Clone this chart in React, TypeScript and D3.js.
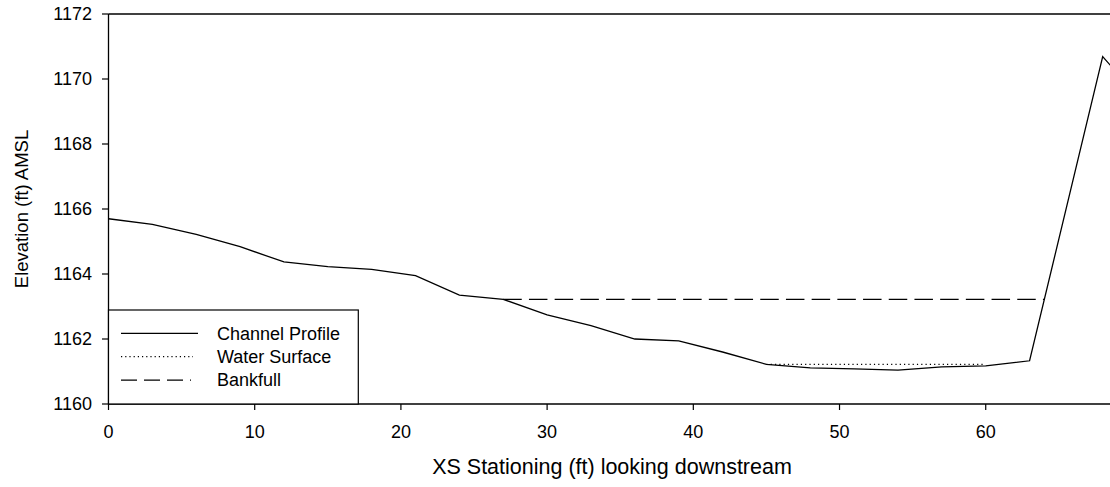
import React from "react";
import * as d3 from "d3";

const stations = [0, 3, 6, 9, 12, 15, 18, 21, 24, 27, 30, 33, 36, 39, 42, 45, 48, 51, 54, 57, 60, 63, 68, 70];
const elevations = [
  1165.7, 1165.53, 1165.22, 1164.84, 1164.37, 1164.23, 1164.14, 1163.95, 1163.35, 1163.22,
  1162.74, 1162.41, 1162.0, 1161.94, 1161.6, 1161.22, 1161.11, 1161.08, 1161.04, 1161.14,
  1161.17, 1161.33, 1170.69, 1169.67,
];
const waterStations = [45, 60];
const waterElev = [1161.22, 1161.22];
const bankStations = [27, 64];
const bankElev = [1163.22, 1163.22];
const xTicks = [0, 10, 20, 30, 40, 50, 60];
const yTicks = [1160, 1162, 1164, 1166, 1168, 1170, 1172];
const legendLabels = ["Channel Profile", "Water Surface", "Bankfull"];

const W = 1110;
const H = 487;
const left = 108.5;
const right = 1110;
const top = 14;
const bottom = 404;
const FONT = "'Liberation Sans', Arial, sans-serif";

export default function App() {
  const x = d3.scaleLinear().domain([0, 68.5]).range([left, right]);
  const y = d3.scaleLinear().domain([1160, 1172]).range([bottom, top]);
  const line = d3
    .line<[number, number]>()
    .x((d) => x(d[0]))
    .y((d) => y(d[1]));
  const profile = stations.map((s, i) => [s, elevations[i]] as [number, number]);
  const water = waterStations.map((s, i) => [s, waterElev[i]] as [number, number]);
  const bank = bankStations.map((s, i) => [s, bankElev[i]] as [number, number]);

  const legendStyles = [
    { dash: undefined, x2: 198 },
    { dash: "1.2,3", x2: 193 },
    { dash: "16,7", x2: 191 },
  ];

  return (
    <svg
      width={W}
      height={H}
      style={{ position: "absolute", left: 0, top: 0, background: "#fff" }}
      fontFamily={FONT}
    >
      <defs>
        <clipPath id="plot">
          <rect x={left} y={top} width={right - left} height={bottom - top} />
        </clipPath>
      </defs>
      <g clipPath="url(#plot)" fill="none" stroke="#000" strokeWidth={1.3}>
        <path d={line(bank) || ""} strokeDasharray="18.5,7.2" />
        <path d={line(water) || ""} strokeDasharray="1.2,3.1" />
        <path d={line(profile) || ""} />
      </g>
      {/* frame */}
      <line x1={left} x2={left} y1={top} y2={bottom} stroke="#000" strokeWidth={1.3} />
      <line x1={left} x2={right} y1={bottom} y2={bottom} stroke="#000" strokeWidth={1.3} />
      <line x1={left} x2={right} y1={top} y2={top} stroke="#000" strokeWidth={1.3} />
      {/* y ticks */}
      {yTicks.map((t) => (
        <g key={"y" + t}>
          <line x1={left - 6.5} x2={left} y1={y(t)} y2={y(t)} stroke="#000" strokeWidth={1.2} />
          <text x={92} y={y(t)} dy="0.35em" textAnchor="end" fontSize={18} fill="#000">
            {t}
          </text>
        </g>
      ))}
      {/* x ticks */}
      {xTicks.map((t) => (
        <g key={"x" + t}>
          <line x1={x(t)} x2={x(t)} y1={bottom} y2={bottom + 6} stroke="#000" strokeWidth={1.2} />
          <text x={x(t)} y={437.5} textAnchor="middle" fontSize={18} fill="#000">
            {t}
          </text>
        </g>
      ))}
      <text x={612} y={474} textAnchor="middle" fontSize={21.5} fill="#000">
        XS Stationing (ft) looking downstream
      </text>
      <text
        transform={`translate(28,${(top + bottom) / 2}) rotate(-90)`}
        textAnchor="middle"
        fontSize={18.5}
        fill="#000"
      >
        Elevation (ft) AMSL
      </text>
      {/* legend */}
      <rect x={left} y={310} width={358.3 - left} height={bottom - 310} fill="#fff" stroke="#000" strokeWidth={1.2} />
      {legendLabels.map((lab, i) => {
        const ly = 333.3 + i * 23.4;
        return (
          <g key={lab}>
            <line
              x1={121}
              x2={legendStyles[i].x2}
              y1={ly}
              y2={ly}
              stroke="#000"
              strokeWidth={1.2}
              strokeDasharray={legendStyles[i].dash}
            />
            <text x={217} y={ly} dy="0.35em" fontSize={18} fill="#000">
              {lab}
            </text>
          </g>
        );
      })}
    </svg>
  );
}
